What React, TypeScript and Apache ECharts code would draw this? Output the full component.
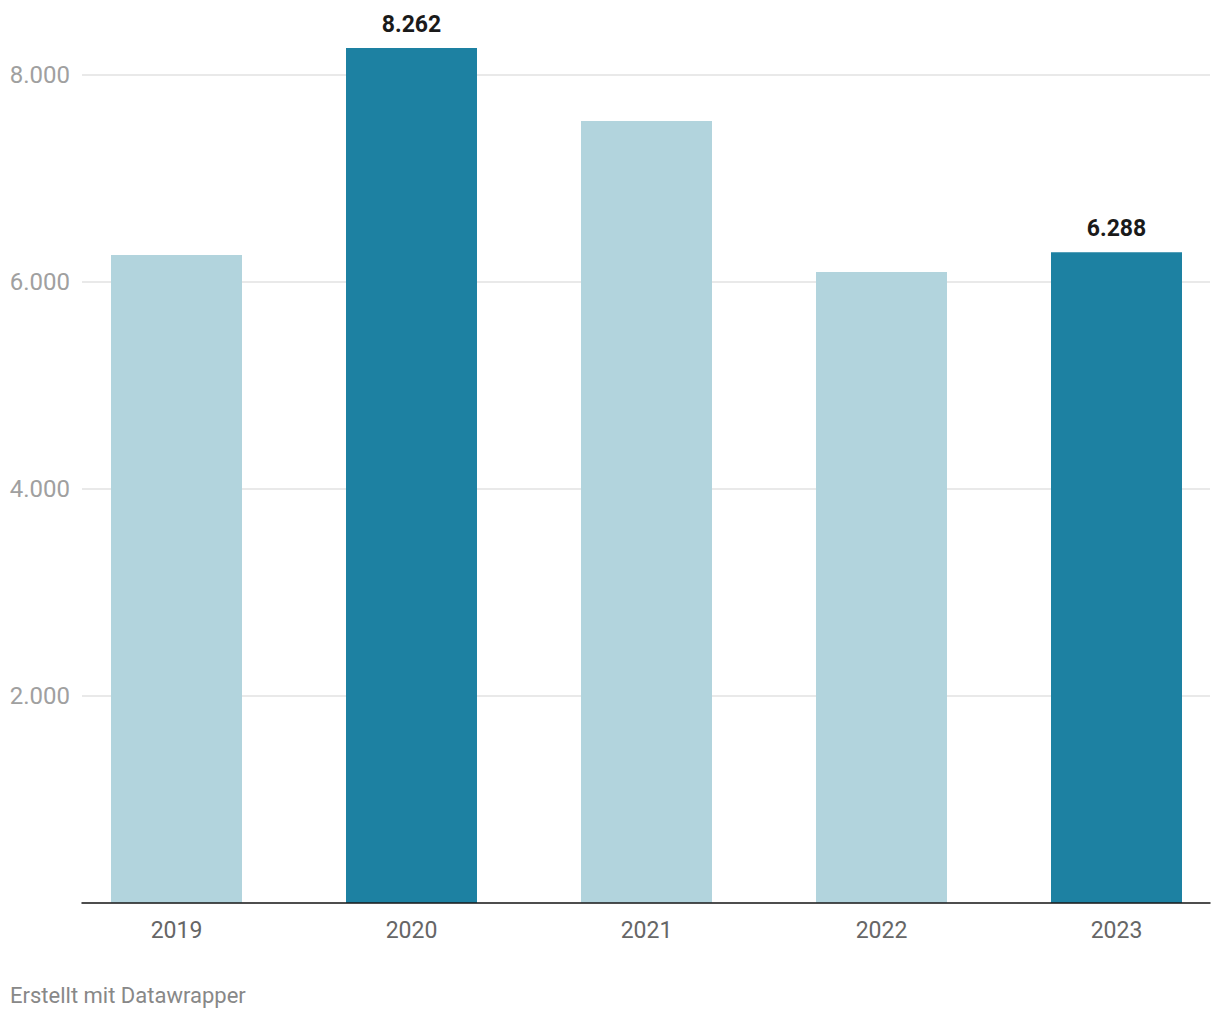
import React, { useEffect, useRef } from "react";
import * as echarts from "echarts";

const categories = ["2019", "2020", "2021", "2022", "2023"];
const values = [6262, 8262, 7556, 6097, 6288];
const highlighted = [false, true, false, false, true];
const yTicks = [0, 2000, 4000, 6000, 8000];

const DARK = "#1d81a2";
const LIGHT = "#b2d4dd";
const FONT = "Roboto, 'Noto Sans', sans-serif";

const fmt = (v: number) => String(v).replace(/\B(?=(\d{3})+(?!\d))/g, ".");

export default function App() {
  const ref = useRef<HTMLDivElement>(null);
  useEffect(() => {
    if (!ref.current) return;
    const chart = echarts.init(ref.current, undefined, { renderer: "svg" });
    chart.setOption({
      animation: false,
      textStyle: { fontFamily: FONT },
      grid: [
        { left: 59, width: 1175, top: 75, bottom: 117, outerBoundsMode: "none", containLabel: false },
        { left: 82, width: 1128, top: 75, bottom: 117, outerBoundsMode: "none", containLabel: false },
      ],
      xAxis: [
        {
          type: "category",
          gridIndex: 0,
          data: categories,
          axisLine: { show: false },
          axisTick: { show: false },
          axisLabel: { color: "#666666", fontSize: 23, margin: 16, fontFamily: FONT },
        },
        {
          type: "category",
          gridIndex: 1,
          data: categories,
          axisLine: { show: true, lineStyle: { color: "#1a1a1a", width: 1.5 } },
          axisTick: { show: false },
          axisLabel: { show: false },
          z: 10,
        },
      ],
      yAxis: [
        {
          type: "value",
          gridIndex: 0,
          min: yTicks[0],
          max: yTicks[yTicks.length - 1],
          interval: 2000,
          show: false,
          splitLine: { show: false },
        },
        {
          type: "value",
          gridIndex: 1,
          min: yTicks[0],
          max: yTicks[yTicks.length - 1],
          interval: 2000,
          axisLine: { show: false },
          axisTick: { show: false },
          splitLine: { show: true, lineStyle: { color: "#e2e2e2", width: 1.5 } },
          axisLabel: {
            color: "#a0a0a0",
            fontSize: 24,
            margin: 12,
            showMinLabel: false,
            fontFamily: FONT,
            formatter: (v: number) => (v === 0 ? "" : fmt(v)),
          },
        },
      ],
      series: [
        {
          type: "bar",
          xAxisIndex: 0,
          yAxisIndex: 0,
          barWidth: 131,
          clip: false,
          z: 5,
          data: values.map((v, i) => ({
            value: v,
            itemStyle: { color: highlighted[i] ? DARK : LIGHT },
            label: {
              show: highlighted[i],
              position: "top",
              distance: 12,
              formatter: () => fmt(v),
              color: "#1a1a1a",
              fontWeight: "bold",
              fontSize: 23,
              fontFamily: FONT,
            },
          })),
        },
      ],
      graphic: [
        {
          type: "text",
          left: 10,
          top: 984,
          style: {
            text: "Erstellt mit Datawrapper",
            fill: "#888888",
            fontSize: 22,
            fontFamily: FONT,
          },
        },
      ],
    });
    return () => chart.dispose();
  }, []);
  return <div ref={ref} style={{ width: 1220, height: 1020, position: "absolute", left: 0, top: 0 }} />;
}
